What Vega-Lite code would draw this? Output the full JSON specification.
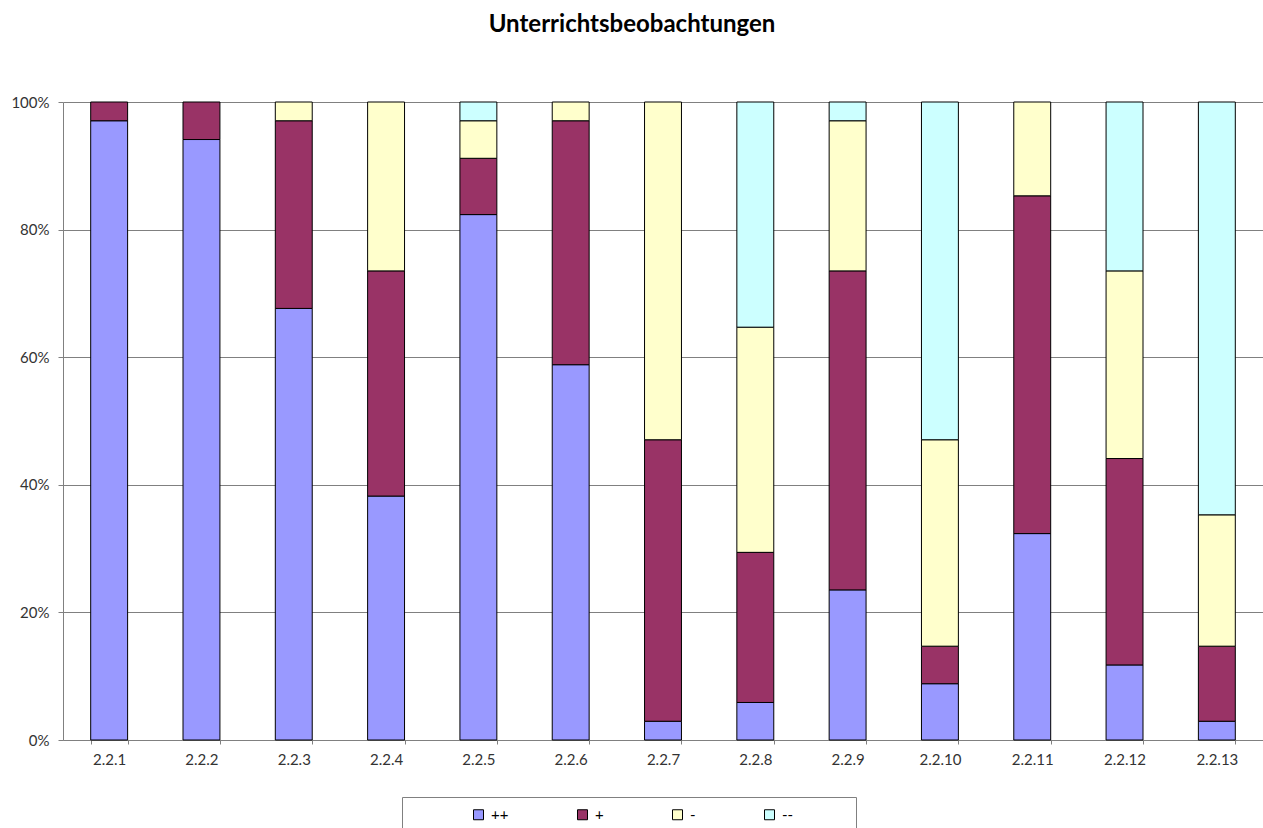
{
  "$schema": "https://vega.github.io/schema/vega-lite/v6.json",
  "width": 1200,
  "height": 638,
  "autosize": {"type": "none"},
  "padding": {"left": 63, "top": 102, "right": 0, "bottom": 88},
  "background": "white",
  "title": {
    "text": "Unterrichtsbeobachtungen",
    "font": "Lato",
    "fontSize": 24,
    "fontWeight": "bold",
    "color": "#000000",
    "anchor": "middle",
    "dx": -31,
    "offset": 58
  },
  "data": {
    "values": [
      {"item": "2.2.1", "rating": "++", "k": 1, "n": 33},
      {"item": "2.2.1", "rating": "+", "k": 2, "n": 1},
      {"item": "2.2.2", "rating": "++", "k": 1, "n": 32},
      {"item": "2.2.2", "rating": "+", "k": 2, "n": 2},
      {"item": "2.2.3", "rating": "++", "k": 1, "n": 23},
      {"item": "2.2.3", "rating": "+", "k": 2, "n": 10},
      {"item": "2.2.3", "rating": "-", "k": 3, "n": 1},
      {"item": "2.2.4", "rating": "++", "k": 1, "n": 13},
      {"item": "2.2.4", "rating": "+", "k": 2, "n": 12},
      {"item": "2.2.4", "rating": "-", "k": 3, "n": 9},
      {"item": "2.2.5", "rating": "++", "k": 1, "n": 28},
      {"item": "2.2.5", "rating": "+", "k": 2, "n": 3},
      {"item": "2.2.5", "rating": "-", "k": 3, "n": 2},
      {"item": "2.2.5", "rating": "--", "k": 4, "n": 1},
      {"item": "2.2.6", "rating": "++", "k": 1, "n": 20},
      {"item": "2.2.6", "rating": "+", "k": 2, "n": 13},
      {"item": "2.2.6", "rating": "-", "k": 3, "n": 1},
      {"item": "2.2.7", "rating": "++", "k": 1, "n": 1},
      {"item": "2.2.7", "rating": "+", "k": 2, "n": 15},
      {"item": "2.2.7", "rating": "-", "k": 3, "n": 18},
      {"item": "2.2.8", "rating": "++", "k": 1, "n": 2},
      {"item": "2.2.8", "rating": "+", "k": 2, "n": 8},
      {"item": "2.2.8", "rating": "-", "k": 3, "n": 12},
      {"item": "2.2.8", "rating": "--", "k": 4, "n": 12},
      {"item": "2.2.9", "rating": "++", "k": 1, "n": 8},
      {"item": "2.2.9", "rating": "+", "k": 2, "n": 17},
      {"item": "2.2.9", "rating": "-", "k": 3, "n": 8},
      {"item": "2.2.9", "rating": "--", "k": 4, "n": 1},
      {"item": "2.2.10", "rating": "++", "k": 1, "n": 3},
      {"item": "2.2.10", "rating": "+", "k": 2, "n": 2},
      {"item": "2.2.10", "rating": "-", "k": 3, "n": 11},
      {"item": "2.2.10", "rating": "--", "k": 4, "n": 18},
      {"item": "2.2.11", "rating": "++", "k": 1, "n": 11},
      {"item": "2.2.11", "rating": "+", "k": 2, "n": 18},
      {"item": "2.2.11", "rating": "-", "k": 3, "n": 5},
      {"item": "2.2.12", "rating": "++", "k": 1, "n": 4},
      {"item": "2.2.12", "rating": "+", "k": 2, "n": 11},
      {"item": "2.2.12", "rating": "-", "k": 3, "n": 10},
      {"item": "2.2.12", "rating": "--", "k": 4, "n": 9},
      {"item": "2.2.13", "rating": "++", "k": 1, "n": 1},
      {"item": "2.2.13", "rating": "+", "k": 2, "n": 4},
      {"item": "2.2.13", "rating": "-", "k": 3, "n": 7},
      {"item": "2.2.13", "rating": "--", "k": 4, "n": 22}
    ]
  },
  "mark": {"type": "bar", "stroke": "#000000", "strokeWidth": 1},
  "encoding": {
    "x": {
      "field": "item",
      "type": "nominal",
      "sort": null,
      "scale": {"paddingInner": 0.6, "paddingOuter": 0.3},
      "axis": {
        "title": null,
        "labelAngle": 0,
        "labelFont": "Lato",
        "labelFontSize": 15,
        "labelColor": "#333333",
        "labelPadding": 8,
        "tickBand": "extent",
        "tickSize": 4,
        "tickColor": "#808080",
        "domainColor": "#808080",
        "grid": false
      }
    },
    "y": {
      "aggregate": "sum",
      "field": "n",
      "type": "quantitative",
      "stack": "normalize",
      "axis": {
        "title": null,
        "values": [0, 0.2, 0.4, 0.6, 0.8, 1],
        "format": ".0%",
        "labelFont": "Lato",
        "labelFontSize": 15,
        "labelColor": "#333333",
        "labelPadding": 9,
        "tickSize": 5,
        "tickColor": "#808080",
        "domainColor": "#808080",
        "grid": true,
        "gridColor": "#808080",
        "gridWidth": 1
      }
    },
    "color": {
      "field": "rating",
      "type": "nominal",
      "scale": {
        "domain": ["++", "+", "-", "--"],
        "range": ["#9999FF", "#993366", "#FFFFCC", "#CCFFFF"]
      },
      "legend": {
        "title": "\u00a0",
        "titleOrient": "right",
        "titlePadding": 53,
        "titleFontSize": 4,
        "orient": "none",
        "direction": "horizontal",
        "columns": 4,
        "legendX": 339,
        "legendY": 695,
        "symbolType": "square",
        "symbolSize": 100,
        "symbolStrokeColor": "#000000",
        "symbolStrokeWidth": 1,
        "symbolOpacity": 1,
        "symbolOffset": 59,
        "labelFont": "Lato",
        "labelFontSize": 15,
        "labelColor": "#000000",
        "labelOffset": 5,
        "columnPadding": 7,
        "padding": 10,
        "strokeColor": "#808080",
        "fillColor": "#FFFFFF"
      }
    },
    "order": {"field": "k", "type": "quantitative"}
  },
  "config": {
    "view": {"stroke": null}
  }
}
